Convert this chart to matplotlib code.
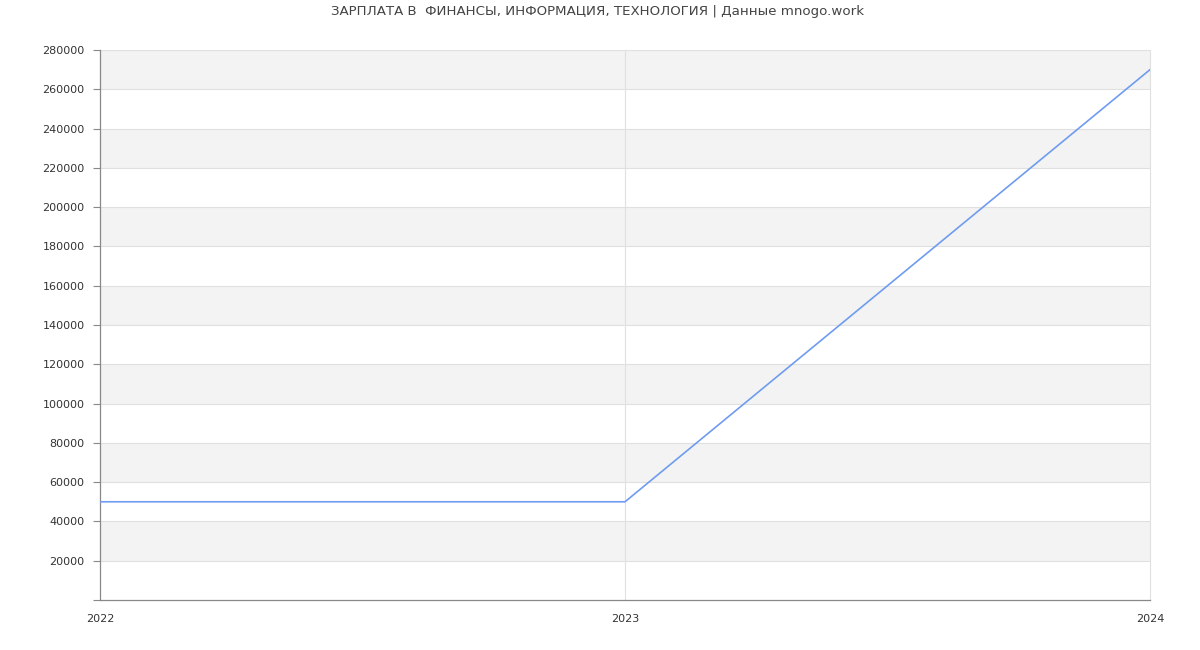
import numpy as np
import matplotlib.pyplot as plt

years = [2022, 2023, 2024]
salary = [50000, 50000, 270000]
y_ticks = list(range(20000, 280001, 20000))
title = 'ЗАРПЛАТА В  ФИНАНСЫ, ИНФОРМАЦИЯ, ТЕХНОЛОГИЯ | Данные mnogo.work'

fig = plt.figure(figsize=(12, 6.5), dpi=100)
ax = fig.add_axes([100 / 1200, 50 / 650, 1050 / 1200, 550 / 650])

# alternating bands
for lo in range(20000, 280000, 40000):
    ax.axhspan(lo, lo + 20000, color='#f3f3f3', zorder=0, lw=0)
for y in y_ticks:
    ax.axhline(y, color='#e0e0e0', lw=0.8, zorder=1)
for x in years[1:]:
    ax.axvline(x, color='#e0e0e0', lw=0.8, zorder=1, clip_on=False)

ax.plot(years, salary, color='#6f9cf0', lw=1.2, zorder=3)

ax.set_xlim(2022, 2024)
ax.set_ylim(0, 280000)
ax.set_xticks(years)
ax.set_xticklabels([str(y) for y in years])
ax.set_yticks([0] + y_ticks)
ax.set_yticklabels([''] + [str(y) for y in y_ticks])
ax.tick_params(axis='y', length=5, color='#888888', labelsize=8, labelcolor='#333333', pad=6)
ax.tick_params(axis='x', length=0, labelsize=8, labelcolor='#333333', pad=10)
for lbl in ax.get_xticklabels():
    lbl.set_x(lbl.get_position()[0])

for s in ['top', 'right']:
    ax.spines[s].set_visible(False)
for s in ['left', 'bottom']:
    ax.spines[s].set_color('#888888')
    ax.spines[s].set_linewidth(0.9)

fig.text(0.5 - 2 / 1200, 1 - 12 / 650, title, ha='center', va='center', fontsize=9.6, color='#444444')

fig.savefig('out.png', dpi=100)
